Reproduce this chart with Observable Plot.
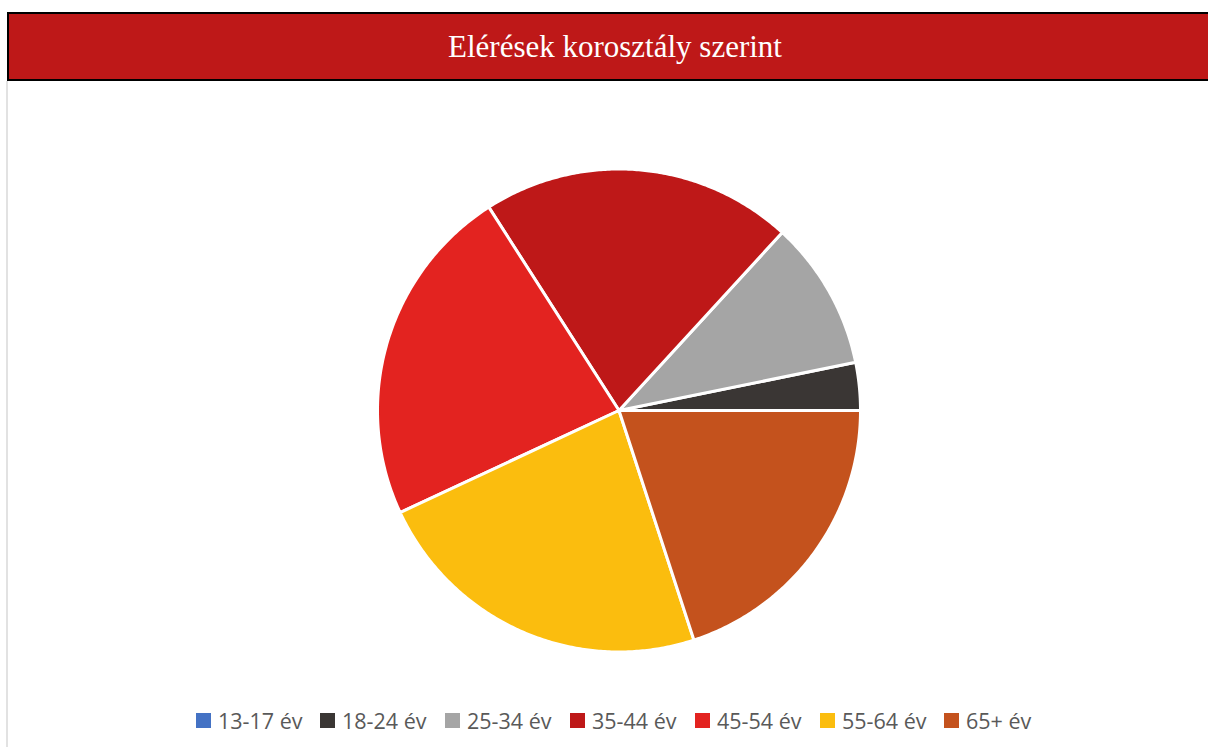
<!DOCTYPE html>
<html>
<head>
<meta charset="utf-8">
<script src="https://cdn.jsdelivr.net/npm/d3@7"></script>
<script src="https://cdn.jsdelivr.net/npm/@observablehq/plot@0.6"></script>
<style>
  html, body { margin: 0; padding: 0; width: 1208px; height: 747px; overflow: hidden; background: #fff; }
  #title {
    position: absolute; left: 7px; top: 12px; width: 1212px; height: 65px;
    background: #BE1818; border: 2px solid #000;
    color: #fff; font-family: "Liberation Serif", "Times New Roman", serif; font-size: 31px;
    display: flex; align-items: center; justify-content: center;
  }
  #leftline { position: absolute; left: 6px; top: 81px; width: 2px; height: 666px; background: #e2e2e2; }
  #chart { position: absolute; left: 0; top: 100px; }
  #legend { position: absolute; top: 706px; left: 0; width: 1208px; height: 28px;
    font-family: "Open Sans", "Noto Sans", sans-serif; font-size: 21.5px; color: #595959; }
  .item { position: absolute; top: 0; display: flex; align-items: center; height: 28px; white-space: nowrap; }
  .sw { width: 15px; height: 15px; margin-right: 7px; }
</style>
</head>
<body>
<div id="title">Elérések korosztály szerint</div>
<div id="leftline"></div>
<div id="chart"></div>
<div id="legend"></div>
<script>
const categories = ["13-17 év", "18-24 év", "25-34 év", "35-44 év", "45-54 év", "55-64 év", "65+ év"];
const shares = [0, 3.2, 10.0, 20.9, 22.9, 23.1, 20.0];
const colors = ["#4472C4", "#3A3634", "#A5A5A5", "#BE1818", "#E32320", "#FBBD0E", "#C4521D"];

// Build slice outlines (counterclockwise from 3 o'clock)
const total = d3.sum(shares);
const outline = [];
let start = 0;
categories.forEach((cat, i) => {
  const a0 = start, a1 = start + shares[i] / total * 2 * Math.PI;
  start = a1;
  if (shares[i] <= 0) return;
  outline.push({cat, x: 0, y: 0});
  const n = Math.max(2, Math.ceil((a1 - a0) / (Math.PI / 360)));
  for (let k = 0; k <= n; k++) {
    const a = a0 + (a1 - a0) * k / n;
    outline.push({cat, x: Math.cos(a), y: Math.sin(a)});
  }
});

const W = 1208, H = 620, R = 241.5, cx = 618.5, cy = 310;
const plot = Plot.plot({
  width: W, height: H,
  marginLeft: cx - R, marginRight: W - cx - R,
  marginTop: cy - R, marginBottom: H - cy - R,
  x: {domain: [-1, 1], axis: null},
  y: {domain: [-1, 1], axis: null},
  color: {domain: categories, range: colors},
  marks: [
    Plot.line(outline, {x: "x", y: "y", z: "cat", fill: "cat", stroke: "#fff", strokeWidth: 3,
      strokeLinejoin: "round", curve: "linear-closed"})
  ]
});
document.getElementById("chart").appendChild(plot);

const color = plot.scale("color");
const legend = document.getElementById("legend");
const lefts = [196, 320, 445, 570, 695, 820, 944];
categories.forEach((c, i) => {
  const it = document.createElement("div");
  it.className = "item";
  it.style.left = lefts[i] + "px";
  const sw = document.createElement("span");
  sw.className = "sw";
  sw.style.background = color.apply(c);
  it.appendChild(sw);
  it.appendChild(document.createTextNode(c));
  legend.appendChild(it);
});
</script>
</body>
</html>
